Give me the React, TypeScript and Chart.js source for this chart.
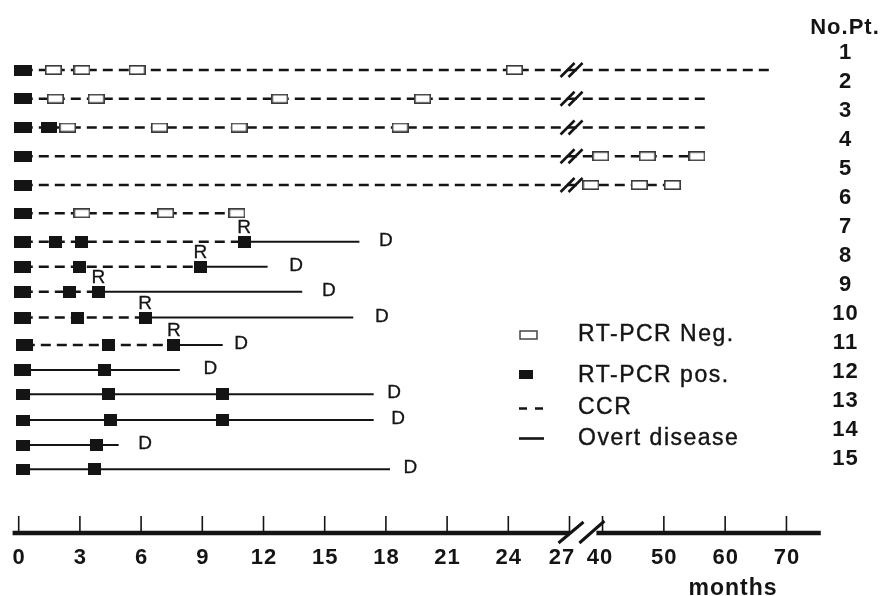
import React, { useEffect, useRef } from "react";
import { Chart, registerables } from "chart.js";

Chart.register(...registerables);

// ---------- data (months) ----------
const xTickMonths = [0, 3, 6, 9, 12, 15, 18, 21, 24, 27, 40, 50, 60, 70];
const patientLabels = ["1", "2", "3", "4", "5", "6", "7", "8", "9", "10", "11", "12", "13", "14", "15"];
const headerLabel = "No.Pt.";
const axisTitle = "months";

// vertical slot of each drawn row (top to bottom)
const rowLevel = [0, 1.15, 2.3, 3.45, 4.6, 5.73, 6.87, 7.87, 8.87, 9.9, 11, 12, 12.97, 14, 15, 15.97];

// CCR period (dashed)
const ccrStart: (number | null)[] = [0.2, 0.2, 0.2, 0.2, 0.2, 0.2, 0.2, 0.2, 0.2, 0.2, 0.3, null, null, null, null, null];
const ccrEnd: (number | null)[] = [68, 57.1, 57.6, 57, 51.4, 10.7, 11.05, 8.9, 3.9, 6.2, 7.6, null, null, null, null, null];

// overt disease period (solid)
const diseaseStart: (number | null)[] = [null, null, null, null, null, null, 11.05, 8.9, 3.9, 6.2, 7.6, 0.2, 0.2, 0.2, 0.2, 0.2];
const diseaseEnd: (number | null)[] = [null, null, null, null, null, null, 16.7, 12.2, 13.9, 16.4, 10.0, 7.9, 17.4, 17.4, 4.9, 18.2];

// RT-PCR results
const posTests: number[][] = [
  [0.2], [0.2], [0.2, 1.5], [0.2], [0.2], [0.2],
  [0.2, 1.8, 3.1, 11.05], [0.2, 3.0, 8.9], [0.2, 2.5, 3.9], [0.2, 2.9, 6.2], [0.3, 4.4, 7.6],
  [0.2, 4.2], [0.2, 4.4, 10.0], [0.2, 4.5, 10.0], [0.2, 3.8], [0.2, 3.7],
];
const negTests: number[][] = [
  [1.7, 3.1, 5.8, 24.3], [1.8, 3.8, 12.8, 19.8], [2.4, 6.9, 10.8, 18.7], [39.7, 47.3, 55.4], [38.1, 46, 51.4], [3.1, 7.2, 10.7],
  [], [], [], [], [], [], [], [], [], [],
];

// relapse (R) and death (D)
const relapseMonth: (number | null)[] = [null, null, null, null, null, null, 11.05, 8.9, 3.9, 6.2, 7.6, null, null, null, null, null];
const deathMonth: (number | null)[] = [null, null, null, null, null, null, 18.0, 13.6, 15.2, 17.8, 10.9, 9.4, 18.4, 18.6, 6.2, 19.2];

const legendLabels = ["RT-PCR Neg.", "RT-PCR pos.", "CCR", "Overt disease"];

// ---------- broken time axis ----------
const BREAK_FROM = 27;
const BREAK_TO = 40;
function bx(m: number): number {
  if (m <= BREAK_FROM) return m;
  return 28.62 + (m - BREAK_TO) * 0.3005;
}

const FONT = '"Liberation Sans", Arial, Helvetica, sans-serif';
const INK = "#141414";

function rectSprite(w: number, h: number, filled: boolean): HTMLCanvasElement {
  const c = document.createElement("canvas");
  c.width = w;
  c.height = h;
  const g = c.getContext("2d")!;
  if (filled) {
    g.fillStyle = INK;
    g.fillRect(0, 0, w, h);
  } else {
    g.fillStyle = "#fff";
    g.fillRect(0, 0, w, h);
    g.strokeStyle = "#3a3a3a";
    g.lineWidth = 1.6;
    g.strokeRect(0.8, 0.8, w - 1.6, h - 1.6);
  }
  return c;
}

function setSpacing(ctx: CanvasRenderingContext2D, v: string) {
  (ctx as any).letterSpacing = v;
}

function heavyText(ctx: CanvasRenderingContext2D, t: string, x: number, y: number, w: number) {
  ctx.fillText(t, x, y);
  if (w > 0) {
    ctx.lineWidth = w;
    ctx.strokeText(t, x, y);
  }
}

export default function App() {
  const ref = useRef<HTMLCanvasElement | null>(null);

  useEffect(() => {
    document.body.style.margin = "0";
    const canvas = ref.current;
    if (!canvas) return;

    const leadA = rectSprite(18, 11, true);
    const leadB = rectSprite(17, 12, true);
    const leadC = rectSprite(14, 11, true);
    const posSmall = rectSprite(13, 12, true);
    const posMid = rectSprite(16, 11, true);
    const negRect = rectSprite(17, 10, false);

    const datasets: any[] = [];
    rowLevel.forEach((y, i) => {
      const cs = ccrStart[i];
      const ce = ccrEnd[i];
      if (cs !== null && ce !== null) {
        datasets.push({
          data: [{ x: bx(cs), y }, { x: bx(ce), y }],
          showLine: true,
          borderColor: INK,
          borderWidth: 2.4,
          borderDash: [10, 6],
          pointRadius: 0,
          order: 2,
        });
      }
      const ds = diseaseStart[i];
      const de = diseaseEnd[i];
      if (ds !== null && de !== null) {
        datasets.push({
          data: [{ x: bx(ds), y }, { x: bx(de), y }],
          showLine: true,
          borderColor: INK,
          borderWidth: 2.1,
          pointRadius: 0,
          order: 2,
        });
      }
      const lead = i < 6 ? leadA : i < 12 ? leadB : leadC;
      const other = i < 6 ? posMid : posSmall;
      const posPts = posTests[i].map((m) => ({ x: bx(m), y }));
      const posStyles = posTests[i].map((_, k) => (k === 0 ? lead : other));
      datasets.push({
        data: posPts,
        pointStyle: posStyles,
        pointRadius: 5,
        showLine: false,
        order: 0,
      });
      if (negTests[i].length) {
        datasets.push({
          data: negTests[i].map((m) => ({ x: bx(m), y })),
          pointStyle: negRect,
          pointRadius: 5,
          showLine: false,
          order: 1,
        });
      }
    });

    const decor = {
      id: "decor",
      afterDraw(chart: any) {
        const ctx: CanvasRenderingContext2D = chart.ctx;
        const xs = chart.scales.x;
        const ys = chart.scales.y;
        const px = (m: number) => xs.getPixelForValue(bx(m));
        ctx.save();
        ctx.strokeStyle = INK;
        ctx.fillStyle = INK;
        ctx.lineCap = "butt";

        // row break marks
        rowLevel.forEach((lv, i) => {
          const ce = ccrEnd[i];
          if (ce === null || ce <= BREAK_FROM) return;
          const cx = xs.getPixelForValue(27.1);
          const cy = ys.getPixelForValue(lv);
          ctx.lineWidth = 2.5;
          for (const off of [-4, 4]) {
            ctx.beginPath();
            ctx.moveTo(cx + off - 7, cy + 7);
            ctx.lineTo(cx + off + 7, cy - 7);
            ctx.stroke();
          }
        });

        // R and D
        ctx.font = `19px ${FONT}`;
        ctx.textAlign = "center";
        ctx.textBaseline = "middle";
        rowLevel.forEach((lv, i) => {
          const cy = ys.getPixelForValue(lv);
          const r = relapseMonth[i];
          if (r !== null) heavyText(ctx, "R", px(r), cy - 14, 0.3);
          const d = deathMonth[i];
          if (d !== null) heavyText(ctx, "D", px(d), cy - 1, 0.3);
        });

        // time axis
        const axisY = 533;
        ctx.lineWidth = 4.5;
        ctx.beginPath();
        ctx.moveTo(px(-0.3), axisY);
        ctx.lineTo(px(27), axisY);
        ctx.moveTo(px(39), axisY);
        ctx.lineTo(px(75.6), axisY);
        ctx.stroke();
        ctx.lineWidth = 3;
        const bL = px(27) + 1;
        const bR = px(39) + 3;
        ctx.beginPath();
        ctx.moveTo(bL - 12, axisY + 10);
        ctx.lineTo(bL + 13, axisY - 11);
        ctx.moveTo(bR - 20, axisY + 10);
        ctx.lineTo(bR + 5, axisY - 12);
        ctx.stroke();
        ctx.lineWidth = 1.6;
        xTickMonths.forEach((m) => {
          const tx = px(m);
          ctx.beginPath();
          ctx.moveTo(tx, axisY - 17);
          ctx.lineTo(tx, axisY);
          ctx.stroke();
        });
        ctx.font = `bold 22px ${FONT}`;
        setSpacing(ctx, "1px");
        xTickMonths.forEach((m) => {
          const shift = m === 27 ? -8 : m === 40 ? -3 : 0;
          ctx.fillText(String(m), px(m) + shift + 0.5, 558);
        });
        ctx.font = `bold 23px ${FONT}`;
        ctx.textBaseline = "alphabetic";
        ctx.fillText(axisTitle, 733, 595);

        // patient numbers
        ctx.font = `bold 22px ${FONT}`;
        ctx.textBaseline = "alphabetic";
        ctx.fillText(headerLabel, 845, 34);
        ctx.textBaseline = "middle";
        patientLabels.forEach((t, i) => {
          ctx.fillText(t, 845.5, 53 + 29 * i);
        });

        // legend
        const lx = 519;
        ctx.fillStyle = "#fff";
        ctx.fillRect(lx + 1, 331, 17, 8);
        ctx.strokeStyle = "#444";
        ctx.lineWidth = 1.5;
        ctx.strokeRect(lx + 1, 331, 17, 8);
        ctx.fillStyle = INK;
        ctx.strokeStyle = INK;
        ctx.fillRect(lx, 370, 14, 9);
        ctx.lineWidth = 2.6;
        ctx.beginPath();
        ctx.moveTo(lx, 408.5);
        ctx.lineTo(lx + 8, 408.5);
        ctx.moveTo(lx + 16, 408.5);
        ctx.lineTo(lx + 24, 408.5);
        ctx.stroke();
        ctx.beginPath();
        ctx.moveTo(lx, 438.5);
        ctx.lineTo(lx + 25, 438.5);
        ctx.stroke();
        ctx.font = `23px ${FONT}`;
        setSpacing(ctx, "1.5px");
        ctx.textAlign = "left";
        ctx.textBaseline = "middle";
        const ly = [335, 376, 408, 439];
        legendLabels.forEach((t, i) => heavyText(ctx, t, 578, ly[i], 0.4));
        setSpacing(ctx, "0px");
        ctx.restore();
      },
    };

    const chart = new Chart(canvas, {
      type: "scatter",
      data: { datasets },
      options: {
        animation: false,
        responsive: false,
        devicePixelRatio: 1,
        events: [],
        layout: { padding: 0, autoPadding: false },
        plugins: { legend: { display: false }, tooltip: { enabled: false } },
        scales: {
          x: { type: "linear", display: false, min: -18.7 / 20.4, max: (885 - 18.7) / 20.4 },
          y: { type: "linear", display: false, reverse: true, min: -70 / 25, max: (596 - 70) / 25 },
        },
      },
      plugins: [decor],
    });

    return () => chart.destroy();
  }, []);

  return (
    <div style={{ width: 885, height: 596, background: "#fff" }}>
      <canvas ref={ref} width={885} height={596} style={{ display: "block" }} />
    </div>
  );
}
